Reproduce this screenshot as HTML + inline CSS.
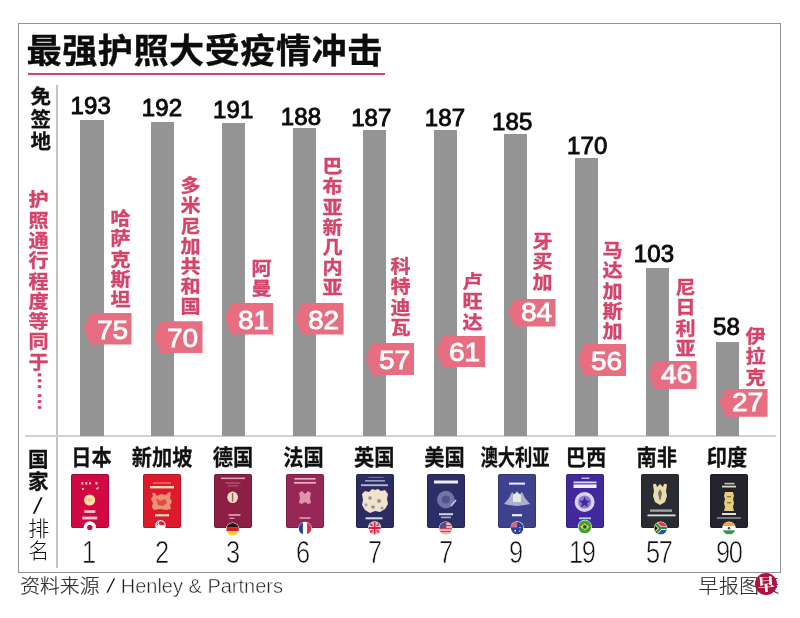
<!DOCTYPE html>
<html lang="zh-CN"><head><meta charset="utf-8"><title>最强护照大受疫情冲击</title>
<style>
*{margin:0;padding:0;box-sizing:border-box}
html,body{width:800px;height:618px;background:#fff;overflow:hidden}
body{position:relative;font-family:"Liberation Sans","Noto Sans CJK SC",sans-serif;color:#111;filter:blur(.4px)}
.abs{position:absolute}
#frame{position:absolute;left:18.45px;top:22.7px;width:762.25px;height:550.5px;border:1.6px solid #919191}
#title{position:absolute;left:26.5px;top:24px;font-size:35.2px;font-weight:700;line-height:52px;white-space:nowrap;letter-spacing:.45px;color:#0c0c0c;-webkit-text-stroke:.35px #0c0c0c;transform:translateY(.8px) scaleY(.96);transform-origin:0 41px}
#rule{position:absolute;left:28px;top:73.1px;width:356.5px;height:2.1px;background:#d5446a}
#vline{position:absolute;left:56.4px;top:85px;width:1.4px;height:483px;background:#c2c2c2}
#hline{position:absolute;left:25px;top:435.3px;width:750.5px;height:1.3px;background:#d0d0d0}
.v{position:absolute;writing-mode:vertical-rl;white-space:nowrap}
.bar{position:absolute;width:23.3px;background:#949494}
.num{position:absolute;white-space:nowrap;font-family:'Liberation Sans',sans-serif;font-size:24px;line-height:26px;font-weight:400;color:#0a0a0a;letter-spacing:.15px;-webkit-text-stroke:.9px #0a0a0a}
.lab{position:absolute;writing-mode:vertical-rl;white-space:nowrap;font-size:19.5px;line-height:20px;width:20px;font-weight:700;letter-spacing:1.7px;color:#d5446a;transform:scale(1.03,.95);transform-origin:50% 0;-webkit-text-stroke:.4px #d5446a}
.badge{position:absolute;background:#e76e80;clip-path:polygon(0 48%,6.4px 0,100% 0,100% 100%,6.4px 100%);color:#fff;font-family:"Liberation Sans",sans-serif;font-size:26.5px;text-align:center;padding-left:7px}
.badge span{display:inline-block;-webkit-text-stroke:.8px #fff}
.country{position:absolute;font-size:20.2px;font-weight:700;line-height:24px;white-space:nowrap;transform:translateX(-50%) scaleY(1.08);top:444.5px;color:#111;-webkit-text-stroke:.25px #111}
.rank{position:absolute;white-space:nowrap;font-family:'Liberation Sans',sans-serif;font-size:31px;line-height:30px;font-weight:400;color:#111;letter-spacing:-1.6px;-webkit-text-stroke:.6px #fff;transform-origin:0 0;transform:scaleX(.82)}
.pp{position:absolute;width:38px;height:62px;top:474px;overflow:visible}
#src{position:absolute;left:20.3px;top:573px;font-size:19.8px;line-height:26px;color:#2e2e2e;white-space:nowrap;font-weight:300;-webkit-text-stroke:.2px #2e2e2e}
#src b{font-weight:400;font-family:"Liberation Sans",sans-serif;font-size:20px;-webkit-text-stroke:.45px #fff;color:#222}
#src i{font-style:normal;display:inline-block;font-family:"Liberation Sans",sans-serif;font-size:20px;line-height:14px;transform:translateY(.3px) scaleX(1.9);margin:0 7.3px 0 8.4px;-webkit-text-stroke:.7px #fff;color:#222}
#logo{position:absolute;left:698.6px;top:573px;font-size:19.8px;line-height:26px;color:#2e2e2e;white-space:nowrap;font-weight:300;letter-spacing:.5px;-webkit-text-stroke:.2px #2e2e2e}
#seal{position:absolute;left:754.6px;top:572.5px;width:22.4px;height:22.4px;border-radius:50%;background:#b1123c;color:#fff;font-family:"Liberation Serif","Noto Serif CJK SC",serif;font-weight:900;font-size:17px;line-height:22.4px;text-align:center;overflow:hidden}
#seal span{display:block;transform:translateY(1.4px) rotate(-4deg)}
</style></head>
<body>
<div id="frame"></div>
<div id="title">最强护照大受疫情冲击</div>
<div id="rule"></div>
<div id="vline"></div><div id="hline"></div>
<div class="v" style="left:27.3px;top:85.7px;width:22.5px;font-size:20.5px;line-height:22.5px;font-weight:700;letter-spacing:2.2px;-webkit-text-stroke:.3px #111">免签地</div>
<div class="v" style="left:27.2px;top:189.6px;width:20px;font-size:19.5px;line-height:20px;font-weight:700;letter-spacing:1.87px;color:#d5446a;transform:scale(1.03,.95);transform-origin:50% 0;-webkit-text-stroke:.4px #d5446a">护照通行程度等同于<span style="position:relative;left:7.6px;top:-1px;letter-spacing:2.4px">……</span></div>
<div class="v" style="left:25.7px;top:449.3px;width:21.5px;font-size:20.5px;line-height:21.5px;font-weight:700;letter-spacing:1.2px;-webkit-text-stroke:.3px #111">国家</div>
<div class="abs" style="left:26.8px;top:492.6px;width:21.5px;text-align:center;font-size:24px;line-height:26px;font-family:'Liberation Sans',sans-serif;transform:scaleX(1.7);-webkit-text-stroke:.7px #fff">/</div>
<div class="v" style="left:26.2px;top:517.5px;width:21.5px;font-size:21px;line-height:21.5px;font-weight:300;letter-spacing:.6px">排名</div>
<div class="bar" style="left:80.4px;top:120.2px;height:315.8px"></div>
<div class="num" style="left:70.43px;top:93.28px">193</div>
<div class="lab" style="left:109.25px;top:208.65px">哈萨克斯坦</div>
<div class="badge" style="left:84px;top:313px;width:47.50px;height:31.50px;line-height:32.50px"><span style="transform:translate(.8px,0.65px) scaleX(1.06)">75</span></div>
<div class="country" style="left:91.45px">日本</div>
<svg class="pp" style="left:71.3px" viewBox="0 0 38 62"><rect x="0" y="0" width="38" height="54" rx="2" fill="#d10842"/><rect x=".5" y=".5" width="37" height="53" rx="1.6" fill="none" stroke="#000" stroke-opacity=".16" stroke-width="1"/><rect x="10.3" y="8" width="2" height="2.6" fill="#f6b9c0"/><rect x="14.3" y="8" width="2" height="2.6" fill="#f6b9c0"/><rect x="18" y="8" width="2" height="2.6" fill="#f6b9c0"/><rect x="24.5" y="8" width="2" height="2.6" fill="#f6b9c0"/><rect x="11" y="14" width="2" height="2" fill="#f6b9c0"/><rect x="25" y="13.5" width="3" height="1.6" fill="#f6b9c0" transform="rotate(-40 26.5 14.3)"/><circle cx="18.6" cy="26" r="5.6" fill="#f7dfa6"/><circle cx="18.6" cy="26" r="2" fill="#f3c777"/><rect x="13.3" y="36.300000000000004" width="11" height="2.6" fill="#f9c9cf" opacity="1"/><rect x="11.3" y="42.6" width="15" height="2.8" fill="#f9c9cf" opacity="1"/><clipPath id="fcjp"><circle cx="18.8" cy="53.4" r="5.2"/></clipPath><circle cx="18.8" cy="53.4" r="6.2" fill="#fff"/><g clip-path="url(#fcjp)"><rect x="13.600000000000001" y="48.199999999999996" width="10.4" height="10.4" fill="#fff"/><circle cx="18.8" cy="53.4" r="2.7" fill="#c8143c"/></g></svg>
<div class="rank" style="left:81.98px;top:537.76px">1</div>
<div class="bar" style="left:151.1px;top:122px;height:314.0px"></div>
<div class="num" style="left:141.65px;top:95.28px">192</div>
<div class="lab" style="left:179.25px;top:176.4px">多米尼加共和国</div>
<div class="badge" style="left:154.25px;top:321.25px;width:48.25px;height:31.75px;line-height:32.75px"><span style="transform:translate(.8px,0.78px) scaleX(1.06)">70</span></div>
<div class="country" style="left:162.15px">新加坡</div>
<svg class="pp" style="left:143.3px" viewBox="0 0 38 62"><rect x="0" y="0" width="38" height="54" rx="2" fill="#dc1a2c"/><rect x=".5" y=".5" width="37" height="53" rx="1.6" fill="none" stroke="#000" stroke-opacity=".16" stroke-width="1"/><rect x="10.0" y="8.4" width="18" height="1.2" fill="#f2a08a" opacity="0.8"/><rect x="7.0" y="12.0" width="24" height="2.4" fill="#f9d9b6" opacity="1"/><path d="M9 19h3l2 3 4-2 5 1 3-3 2 1-1 5 2 4-2 3 1 4-5 1-6 -1-6 1-2-3 1-4-2-4 2-3z" fill="#f3b98e" opacity=".75"/><path d="M13 24l4 3 5-2 2 4-4 3-5-1z" fill="#dc1a2c" opacity=".6"/><rect x="12.0" y="40.199999999999996" width="14" height="2.2" fill="#fbe0c8" opacity="1"/><clipPath id="fcsg"><circle cx="17.5" cy="51.4" r="4.3"/></clipPath><circle cx="17.5" cy="51.4" r="5.3" fill="#fff"/><g clip-path="url(#fcsg)"><rect x="13.2" y="47.1" width="8.6" height="4.3" fill="#e0202f"/><rect x="13.2" y="51.4" width="8.6" height="4.3" fill="#fff"/><circle cx="16.5" cy="49.199999999999996" r="2" fill="#fff"/><circle cx="17.5" cy="49.199999999999996" r="1.7" fill="#e0202f"/></g></svg>
<div class="rank" style="left:155.04px;top:537.76px">2</div>
<div class="bar" style="left:222px;top:123.2px;height:312.8px"></div>
<div class="num" style="left:213.00px;top:97.03px">191</div>
<div class="lab" style="left:249.75px;top:259.4px">阿曼</div>
<div class="badge" style="left:225px;top:303px;width:48.25px;height:31.50px;line-height:32.50px"><span style="transform:translate(.8px,0.65px) scaleX(1.06)">81</span></div>
<div class="country" style="left:233.05px">德国</div>
<svg class="pp" style="left:214.2px" viewBox="0 0 38 62"><rect x="0" y="0" width="38" height="54" rx="2" fill="#8d1f47"/><rect x=".5" y=".5" width="37" height="53" rx="1.6" fill="none" stroke="#000" stroke-opacity=".16" stroke-width="1"/><rect x="7.0" y="3.5" width="24" height="1.6" fill="#e6a9b8" opacity="0.9"/><rect x="11.5" y="8.4" width="15" height="1.2" fill="#c9708a" opacity="0.8"/><rect x="13.5" y="11.200000000000001" width="11" height="1.2" fill="#c9708a" opacity="0.7"/><ellipse cx="18.6" cy="23.3" rx="5.4" ry="5.8" fill="#f3dcc0"/><rect x="17.9" y="19" width="1.4" height="8.6" fill="#8d1f47" opacity=".7"/><rect x="14.5" y="40.2" width="12" height="1.6" fill="#e6b9c4" opacity="0.9"/><rect x="15.5" y="43.599999999999994" width="5" height="1.4" fill="#e0a9b8" opacity="0.8"/><clipPath id="fcde"><circle cx="18.6" cy="55.2" r="6.3"/></clipPath><circle cx="18.6" cy="55.2" r="6.75" fill="#fff"/><g clip-path="url(#fcde)"><rect x="12.3" y="48.900000000000006" width="12.6" height="4.4" fill="#1a1a1a"/><rect x="12.3" y="53.10000000000001" width="12.6" height="4.4" fill="#d8202a"/><rect x="12.3" y="57.300000000000004" width="12.6" height="4.2" fill="#f6cf2a"/></g></svg>
<div class="rank" style="left:226.35px;top:537.82px">3</div>
<div class="bar" style="left:292.5px;top:128.2px;height:307.8px"></div>
<div class="num" style="left:280.70px;top:103.53px">188</div>
<div class="lab" style="left:321px;top:157.4px">巴布亚新几内亚</div>
<div class="badge" style="left:295.5px;top:303px;width:48.00px;height:31.50px;line-height:32.50px"><span style="transform:translate(.8px,0.65px) scaleX(1.06)">82</span></div>
<div class="country" style="left:303.55px">法国</div>
<svg class="pp" style="left:285.6px" viewBox="0 0 38 62"><rect x="0" y="0" width="38" height="54" rx="2" fill="#972757"/><rect x=".5" y=".5" width="37" height="53" rx="1.6" fill="none" stroke="#000" stroke-opacity=".16" stroke-width="1"/><rect x="8.5" y="4.0" width="21" height="1.6" fill="#f0b9c4" opacity="0.95"/><rect x="8.0" y="7.950000000000001" width="22" height="1.7" fill="#f0b9c4" opacity="0.95"/><path d="M13 19l3-2 3 3 3-3 3 2-1 5 1 5-3 1-3-2-3 2-3-1 1-5z" fill="#e6a0b4" opacity=".9"/><rect x="13.5" y="43.2" width="11" height="1.6" fill="#e6a9b8" opacity="0.9"/><clipPath id="fcfr"><circle cx="19" cy="54.4" r="6.3"/></clipPath><circle cx="19" cy="54.4" r="6.75" fill="#fff"/><g clip-path="url(#fcfr)"><rect x="12.7" y="48.1" width="4.4" height="12.6" fill="#2a3f8f"/><rect x="16.9" y="48.1" width="4.4" height="12.6" fill="#fff"/><rect x="21.1" y="48.1" width="4.2" height="12.6" fill="#d8303a"/></g></svg>
<div class="rank" style="left:296.34px;top:537.84px">6</div>
<div class="bar" style="left:363.2px;top:130px;height:306.0px"></div>
<div class="num" style="left:351.14px;top:104.78px">187</div>
<div class="lab" style="left:388.5px;top:256.9px">科特迪瓦</div>
<div class="badge" style="left:365.75px;top:343px;width:48.50px;height:32.00px;line-height:33.00px"><span style="transform:translate(.8px,0.90px) scaleX(1.06)">57</span></div>
<div class="country" style="left:374.25px">英国</div>
<svg class="pp" style="left:355.7px" viewBox="0 0 38 62"><rect x="0" y="0" width="38" height="54" rx="2" fill="#2a2c62"/><rect x=".5" y=".5" width="37" height="53" rx="1.6" fill="none" stroke="#000" stroke-opacity=".16" stroke-width="1"/><rect x="12.5" y="2.8" width="15" height="1.2" fill="#7a7ca8" opacity="0.8"/><rect x="9.0" y="6.0" width="20" height="1.6" fill="#a9abc8" opacity="0.9"/><rect x="5.0" y="10.299999999999999" width="27" height="1.8" fill="#c9cbe0" opacity="0.9"/><path d="M6 20l3-3 4 1 3-3 3 1 3-1 3 2 4-1 3 4-1 5 1 5-3 5-5 3-5-1-5 2-5-3-3-5 1-5z" fill="#efe3cc"/><circle cx="14" cy="24" r="1.8" fill="#6a6c8a" opacity=".7"/><circle cx="23" cy="27" r="2" fill="#6a6c8a" opacity=".7"/><circle cx="17" cy="33" r="1.8" fill="#6a6c8a" opacity=".7"/><circle cx="26" cy="34" r="1.5" fill="#6a6c8a" opacity=".6"/><circle cx="10" cy="31" r="1.4" fill="#6a6c8a" opacity=".6"/><rect x="9.5" y="43.3" width="17" height="2" fill="#d9dbec" opacity="1"/><clipPath id="fcgb"><circle cx="18.6" cy="54.1" r="6.3"/></clipPath><circle cx="18.6" cy="54.1" r="6.75" fill="#fff"/><g clip-path="url(#fcgb)"><rect x="12.3" y="47.800000000000004" width="12.6" height="12.6" fill="#e8a0a8"/><path d="M12.3 47.800000000000004L24.9 60.400000000000006M24.9 47.800000000000004L12.3 60.400000000000006" stroke="#e03045" stroke-width="1.6"/><path d="M18.6 47.800000000000004V60.400000000000006M12.3 54.1H24.9" stroke="#fff" stroke-width="3.4"/><path d="M18.6 47.800000000000004V60.400000000000006M12.3 54.1H24.9" stroke="#d8203a" stroke-width="2"/></g></svg>
<div class="rank" style="left:367.93px;top:537.76px">7</div>
<div class="bar" style="left:433.5px;top:130px;height:306.0px"></div>
<div class="num" style="left:424.77px;top:104.78px">187</div>
<div class="lab" style="left:460.5px;top:271.9px">卢旺达</div>
<div class="badge" style="left:436.25px;top:336px;width:48.75px;height:31.00px;line-height:32.00px"><span style="transform:translate(.8px,0.40px) scaleX(1.06)">61</span></div>
<div class="country" style="left:444.55px">美国</div>
<svg class="pp" style="left:427.1px" viewBox="0 0 38 62"><rect x="0" y="0" width="38" height="54" rx="2" fill="#2c2e68"/><rect x=".5" y=".5" width="37" height="53" rx="1.6" fill="none" stroke="#000" stroke-opacity=".16" stroke-width="1"/><rect x="7.0" y="6.5" width="24" height="3" fill="#eeeef6" opacity="1"/><circle cx="18.8" cy="25.6" r="8.8" fill="#8a8db8" opacity=".75"/><circle cx="18.8" cy="25.6" r="4" fill="#2b2d6a" opacity=".45"/><path d="M24 32l5-6" stroke="#c9cbe0" stroke-width="1.6"/><rect x="12.0" y="39.2" width="14" height="2" fill="#d9dbec" opacity="0.95"/><rect x="14.0" y="42.6" width="10" height="1.6" fill="#b9bbd8" opacity="0.9"/><clipPath id="fcus"><circle cx="18.6" cy="54.2" r="6.3"/></clipPath><circle cx="18.6" cy="54.2" r="6.75" fill="#fff"/><g clip-path="url(#fcus)"><rect x="12.3" y="47.900000000000006" width="12.6" height="12.6" fill="#e04050"/><rect x="12.3" y="49.400000000000006" width="12.6" height="1.3" fill="#f6e6e8"/><rect x="12.3" y="52.400000000000006" width="12.6" height="1.3" fill="#f6e6e8"/><rect x="12.3" y="55.400000000000006" width="12.6" height="1.3" fill="#f6e6e8"/><rect x="12.3" y="58.400000000000006" width="12.6" height="1.3" fill="#f6e6e8"/><rect x="12.3" y="47.900000000000006" width="6.930000000000001" height="6.3" fill="#4a4f9a"/></g></svg>
<div class="rank" style="left:439.05px;top:537.76px">7</div>
<div class="bar" style="left:504px;top:133.5px;height:302.5px"></div>
<div class="num" style="left:491.94px;top:108.53px">185</div>
<div class="lab" style="left:531px;top:231.9px">牙买加</div>
<div class="badge" style="left:508px;top:298.5px;width:47.50px;height:28.00px;line-height:29.00px"><span style="transform:translate(.8px,-1.10px) scaleX(1.06)">84</span></div>
<div class="country" style="left:515.05px;transform:translateX(-50%) scale(.855,1.08)">澳大利亚</div>
<svg class="pp" style="left:498.1px" viewBox="0 0 38 62"><rect x="0" y="0" width="38" height="54" rx="2" fill="#3e428e"/><rect x=".5" y=".5" width="37" height="53" rx="1.6" fill="none" stroke="#000" stroke-opacity=".16" stroke-width="1"/><rect x="11.0" y="8.6" width="16" height="2" fill="#eeeef8" opacity="1"/><path d="M6 30l5-6 3-6 3 3 2-4 2 4 3-3 3 6 5 6-5 1-8 1-8-1z" fill="#c9cbe4" opacity=".8"/><path d="M15 21l4-3 4 3v7h-8z" fill="#e9e6dc"/><rect x="14.0" y="40.1" width="10" height="2.2" fill="#eeeef8" opacity="1"/><clipPath id="fcau"><circle cx="19.2" cy="54.1" r="6.3"/></clipPath><circle cx="19.2" cy="54.1" r="6.75" fill="#fff"/><g clip-path="url(#fcau)"><rect x="12.899999999999999" y="47.800000000000004" width="12.6" height="12.6" fill="#2c3f9c"/><rect x="12.899999999999999" y="47.800000000000004" width="6.3" height="5.67" fill="#d86a78"/><circle cx="17.2" cy="56.7" r=".9" fill="#fff"/><circle cx="22.0" cy="53.6" r=".7" fill="#fff"/><circle cx="21.7" cy="57.1" r=".7" fill="#fff"/></g></svg>
<div class="rank" style="left:508.78px;top:537.83px">9</div>
<div class="bar" style="left:575px;top:157.5px;height:278.5px"></div>
<div class="num" style="left:566.90px;top:133.03px">170</div>
<div class="lab" style="left:600.5px;top:240.65px">马达加斯加</div>
<div class="badge" style="left:577.8px;top:343.8px;width:48.30px;height:32.20px;line-height:33.20px"><span style="transform:translate(.8px,1.00px) scaleX(1.06)">56</span></div>
<div class="country" style="left:586.05px">巴西</div>
<svg class="pp" style="left:565.7px" viewBox="0 0 38 62"><rect x="0" y="0" width="38" height="54" rx="2" fill="#41299c"/><rect x=".5" y=".5" width="37" height="53" rx="1.6" fill="none" stroke="#000" stroke-opacity=".16" stroke-width="1"/><rect x="15.5" y="3.5" width="8" height="1.4" fill="#d9d0f0" opacity="0.9"/><rect x="7.5" y="7.5" width="23" height="1.8" fill="#e6e0f6" opacity="0.95"/><rect x="7.5" y="10.399999999999999" width="23" height="3.6" fill="#f3f0fb" opacity="1"/><circle cx="18.6" cy="28" r="10" fill="#d9d2f0"/><circle cx="18.6" cy="28" r="6.6" fill="#8a7cc8"/><path d="M18.6 22.6l1.6 3.8 4 .3-3.1 2.6 1 4-3.5-2.2-3.5 2.2 1-4-3.1-2.6 4-.3z" fill="#41299c"/><rect x="13.0" y="43.4" width="12" height="1.8" fill="#c9e0f0" opacity="0.9"/><clipPath id="fcbr"><circle cx="18.8" cy="52.8" r="6.6"/></clipPath><circle cx="18.8" cy="52.8" r="7.05" fill="#fff"/><g clip-path="url(#fcbr)"><rect x="12.200000000000001" y="46.199999999999996" width="13.2" height="13.2" fill="#3aa535"/><path d="M14.200000000000001 52.8L18.8 49.4L23.4 52.8L18.8 56.199999999999996Z" fill="#f2d52a"/><circle cx="18.8" cy="52.8" r="1.9" fill="#2c3a8c"/></g></svg>
<div class="rank" style="left:569.10px;top:537.76px">19</div>
<div class="bar" style="left:645.6px;top:267.5px;height:168.5px"></div>
<div class="num" style="left:633.78px;top:240.53px">103</div>
<div class="lab" style="left:673.5px;top:278.15px">尼日利亚</div>
<div class="badge" style="left:648.3px;top:360.7px;width:48.30px;height:28.50px;line-height:29.50px"><span style="transform:translate(.8px,-0.85px) scaleX(1.06)">46</span></div>
<div class="country" style="left:656.65px">南非</div>
<svg class="pp" style="left:640.7px" viewBox="0 0 38 62"><rect x="0" y="0" width="38" height="54" rx="2" fill="#2a2c33"/><rect x=".5" y=".5" width="37" height="53" rx="1.6" fill="none" stroke="#000" stroke-opacity=".16" stroke-width="1"/><path d="M12 11q1-2 3-1l1 3 3-3 3 3 1-3q2-1 3 1l-1 6 1 5-2 6-5 3-5-3-2-6 1-5z" fill="#e9dcae"/><path d="M19 15l2 4-1 5-1 3-1-3-1-5z" fill="#2a2c33" opacity=".6"/><rect x="9.0" y="35.4" width="22" height="2.4" fill="#b9b9b0" opacity="0.85"/><rect x="6.5" y="40.5" width="28" height="1.8" fill="#e9e9e4" opacity="0.95"/><clipPath id="fcza"><circle cx="19.6" cy="54.2" r="6.3"/></clipPath><circle cx="19.6" cy="54.2" r="6.75" fill="#fff"/><g clip-path="url(#fcza)"><rect x="13.3" y="47.900000000000006" width="12.6" height="6.3" fill="#e03c3c"/><rect x="13.3" y="54.2" width="12.6" height="6.3" fill="#2a4fb0"/><path d="M13.3 47.900000000000006L19.6 54.2H25.9M13.3 60.50000000000001L19.6 54.2" stroke="#fff" stroke-width="3.6" fill="none"/><path d="M13.3 47.900000000000006L19.6 54.2H25.9M13.3 60.50000000000001L19.6 54.2" stroke="#1f8a4a" stroke-width="2.2" fill="none"/><path d="M13.3 50.10000000000001L17.0 54.2L13.3 58.300000000000004Z" fill="#222" stroke="#f2c52a" stroke-width=".8"/></g></svg>
<div class="rank" style="left:646.17px;top:537.76px">57</div>
<div class="bar" style="left:716px;top:341.5px;height:94.5px"></div>
<div class="num" style="left:713.08px;top:314.17px">58</div>
<div class="lab" style="left:744.25px;top:327.4px">伊拉克</div>
<div class="badge" style="left:719px;top:388.6px;width:48.60px;height:28.10px;line-height:29.10px"><span style="transform:translate(.8px,-1.05px) scaleX(1.06)">27</span></div>
<div class="country" style="left:727.05px">印度</div>
<svg class="pp" style="left:710.0px" viewBox="0 0 38 62"><rect x="0" y="0" width="38" height="54" rx="2" fill="#23242e"/><rect x=".5" y=".5" width="37" height="53" rx="1.6" fill="none" stroke="#000" stroke-opacity=".16" stroke-width="1"/><rect x="14.5" y="8.799999999999999" width="10" height="1.6" fill="#e0d6b0" opacity="0.9"/><rect x="12.0" y="11.7" width="14" height="1.8" fill="#e9e0c0" opacity="0.95"/><path d="M15 18h8l1 4-1 3 1 4-1 4 1 4h-10l1-4-1-4 1-4-1-3z" fill="#e6cf7a"/><rect x="17" y="22" width="4" height="1.4" fill="#23242e" opacity=".5"/><rect x="17" y="28" width="4" height="1.4" fill="#23242e" opacity=".5"/><rect x="12.0" y="39.0" width="14" height="2" fill="#f3ecd0" opacity="0.95"/><rect x="7.0" y="43.2" width="24" height="1.6" fill="#a9a9b0" opacity="0.8"/><clipPath id="fcin"><circle cx="19" cy="54.2" r="6.3"/></clipPath><circle cx="19" cy="54.2" r="6.75" fill="#fff"/><g clip-path="url(#fcin)"><rect x="12.7" y="47.900000000000006" width="12.6" height="4.4" fill="#f2a03a"/><rect x="12.7" y="52.10000000000001" width="12.6" height="4.4" fill="#fff"/><rect x="12.7" y="56.300000000000004" width="12.6" height="4.2" fill="#2f9a3f"/><circle cx="19" cy="54.2" r="1.2" fill="#3a3f9a"/></g></svg>
<div class="rank" style="left:716.07px;top:537.83px">90</div>
<div id="src">资料来源<i>/</i><b>Henley &amp; Partners</b></div>
<div id="logo">早报图表</div>
<div id="seal"><span>早</span></div>
</body></html>
